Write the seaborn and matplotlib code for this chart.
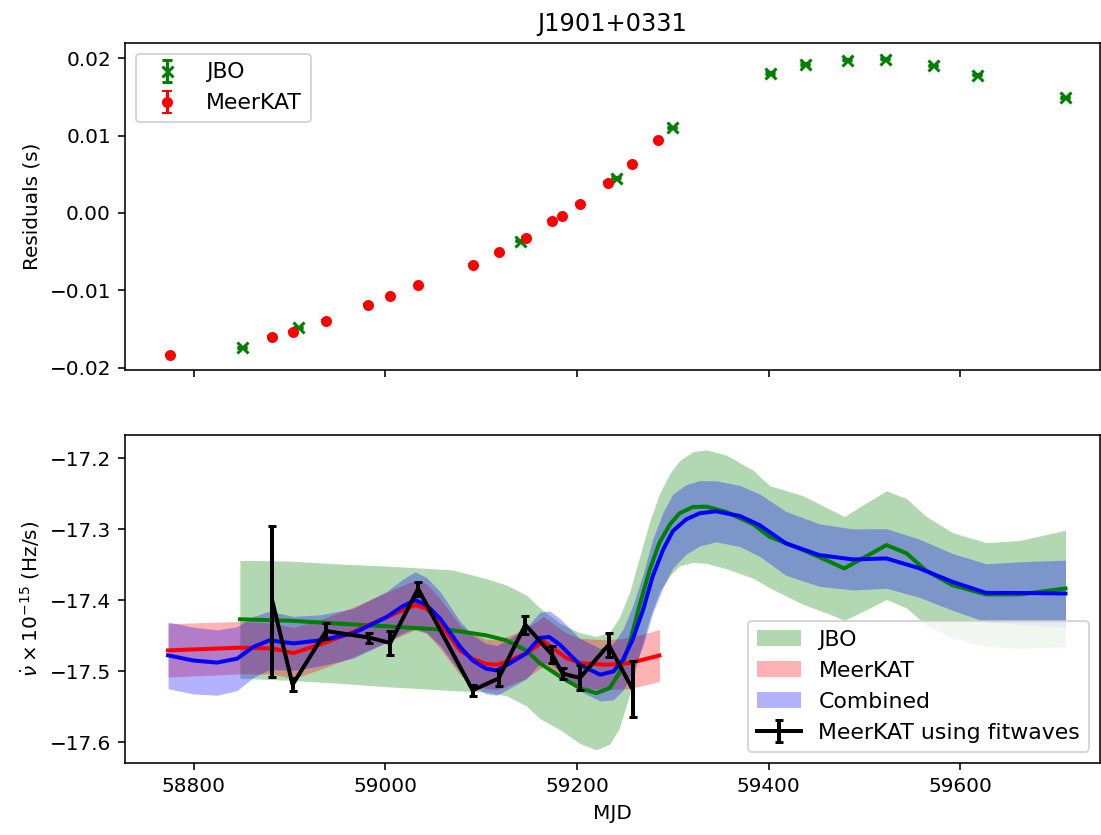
import matplotlib
matplotlib.use("Agg")
import numpy as np
import seaborn as sns
import matplotlib.pyplot as plt

# ---- top panel: timing residuals ----
jbo_mjd = [58850, 58909, 59140, 59241, 59299, 59401, 59438, 59482, 59522, 59572, 59618, 59709]
jbo_res = [-0.01738, -0.01479, -0.00358, 0.00457, 0.01108, 0.01807, 0.01923, 0.01979,
           0.01992, 0.01906, 0.01785, 0.01492]
jbo_err = [0.00008] * len(jbo_mjd)

mk_mjd = [58775, 58882, 58903, 58938, 58982, 59005, 59034, 59091, 59118, 59147,
          59174, 59184, 59203, 59232, 59257, 59284]
mk_res = [-0.01833, -0.0160, -0.01535, -0.01393, -0.01186, -0.01078, -0.00931, -0.00668,
          -0.00509, -0.0032, -0.00103, -0.00039, 0.0012, 0.00392, 0.00638, 0.00936]
mk_err = [0.00005] * len(mk_mjd)

# ---- bottom panel: nu-dot models (mean and 1-sigma half width) ----
jbo_gp_mjd = [58848, 58900, 58950, 59001, 59040, 59070, 59105, 59126, 59147, 59161,
              59182, 59203, 59220, 59234, 59244, 59255, 59265, 59276, 59286, 59297,
              59307, 59321, 59335, 59356, 59384, 59401, 59436, 59464, 59479, 59498,
              59523, 59544, 59564, 59592, 59627, 59662, 59710]
jbo_gp_nu = [-17.427, -17.429, -17.433, -17.437, -17.440, -17.4425, -17.4496, -17.4566,
             -17.4708, -17.4887, -17.5075, -17.524, -17.531, -17.524, -17.503, -17.4604,
             -17.4086, -17.3568, -17.3192, -17.2933, -17.2777, -17.2688, -17.2683,
             -17.2758, -17.2933, -17.3107, -17.3295, -17.346, -17.3554, -17.3413,
             -17.3225, -17.334, -17.358, -17.379, -17.392, -17.392, -17.3836]
jbo_gp_sig = [0.083, 0.084, 0.084, 0.085, 0.085, 0.085, 0.080, 0.078, 0.078, 0.078,
              0.075, 0.078, 0.080, 0.079, 0.078, 0.072, 0.068, 0.068, 0.069, 0.072,
              0.074, 0.078, 0.080, 0.080, 0.076, 0.072, 0.0765, 0.074, 0.073, 0.075,
              0.0765, 0.077, 0.0765, 0.074, 0.073, 0.076, 0.082]

mk_gp_mjd = [58773, 58848, 58881, 58904, 58935, 58966, 59001, 59018, 59031, 59043,
             59057, 59078, 59091, 59105, 59116, 59126, 59147, 59165, 59189, 59203,
             59231, 59255, 59286]
mk_gp_nu = [-17.4708, -17.467, -17.468, -17.4746, -17.461, -17.445, -17.424, -17.4143,
            -17.407, -17.412, -17.433, -17.471, -17.4825, -17.490, -17.491, -17.487,
            -17.475, -17.458, -17.4816, -17.4887, -17.491, -17.4887, -17.478]
mk_gp_sig = [0.0375, 0.037, 0.036, 0.036, 0.035, 0.035, 0.035, 0.035, 0.035, 0.035,
             0.035, 0.035, 0.035, 0.035, 0.035, 0.035, 0.035, 0.035, 0.035, 0.035,
             0.035, 0.036, 0.0365]

comb_mjd = [58773, 58799, 58824, 58845, 58862, 58879, 58904, 58932, 58966, 59001,
            59018, 59031, 59043, 59057, 59078, 59091, 59105, 59116, 59126, 59147,
            59161, 59171, 59182, 59203, 59224, 59238, 59248, 59258, 59269, 59279,
            59290, 59300, 59314, 59328, 59345, 59370, 59391, 59418, 59453, 59488,
            59523, 59557, 59592, 59627, 59662, 59710]
comb_nu = [-17.4778, -17.485, -17.488, -17.4825, -17.466, -17.4566, -17.461, -17.4566,
           -17.447, -17.424, -17.4086, -17.400, -17.4072, -17.426, -17.466, -17.485,
           -17.4966, -17.499, -17.492, -17.475, -17.4533, -17.452, -17.4627, -17.491,
           -17.505, -17.5004, -17.4839, -17.4557, -17.4133, -17.3662, -17.3285,
           -17.3027, -17.2862, -17.2777, -17.2749, -17.2815, -17.2947, -17.320,
           -17.3366, -17.3427, -17.3413, -17.355, -17.3743, -17.3898, -17.390, -17.3907]
comb_sig = [0.047, 0.047, 0.046, 0.045, 0.043, 0.041, 0.038, 0.036, 0.035, 0.036,
            0.038, 0.040, 0.039, 0.038, 0.036, 0.0355, 0.0355, 0.035, 0.035, 0.036,
            0.036, 0.037, 0.037, 0.037, 0.037, 0.040, 0.043, 0.047, 0.050, 0.052,
            0.053, 0.052, 0.049, 0.046, 0.043, 0.043, 0.044, 0.045, 0.044, 0.043,
            0.042, 0.041, 0.040, 0.041, 0.044, 0.047]

# ---- MeerKAT fitwaves nu-dot ----
fw_mjd = [58882, 58903, 58938, 58983, 59005, 59034, 59091, 59118, 59146, 59174,
          59185, 59203, 59233, 59258]
fw_nu = [-17.402, -17.519, -17.4435, -17.4528, -17.4604, -17.384, -17.527, -17.5103,
         -17.4347, -17.4769, -17.5035, -17.5096, -17.463, -17.5254]
fw_err = [0.107, 0.0087, 0.0106, 0.007, 0.0165, 0.0099, 0.008, 0.0113, 0.0125, 0.0118,
          0.0082, 0.0177, 0.0172, 0.0395]

fig, (ax1, ax2) = plt.subplots(2, 1, sharex=True, figsize=(1101 / 144, 835 / 144), dpi=144)
fig.subplots_adjust(left=0.1135, right=0.9991, bottom=0.0866, top=0.9489, hspace=0.2)

# residuals
ax1.errorbar(jbo_mjd, jbo_res, yerr=jbo_err, fmt='x', color='green', ms=5.5, mew=1.5,
             capsize=2.5, label='JBO')
ax1.errorbar(mk_mjd, mk_res, yerr=mk_err, fmt='o', color='red', ms=4.5,
             capsize=2.5, label='MeerKAT')
ax1.set_ylabel('Residuals (s)')
ax1.set_title('J1901+0331')
ax1.set_ylim(-0.0203, 0.0220)
ax1.legend(loc='upper left', fontsize=11)

# bands
bands = [(jbo_gp_mjd, jbo_gp_nu, jbo_gp_sig, 'green', 'JBO'),
         (mk_gp_mjd, mk_gp_nu, mk_gp_sig, 'red', 'MeerKAT'),
         (comb_mjd, comb_nu, comb_sig, 'blue', 'Combined')]
for mjd, nu, sig, col, lab in bands:
    nu = np.array(nu)
    sig = np.array(sig)
    ax2.fill_between(mjd, nu - sig, nu + sig, color=col, alpha=0.3, lw=0, label=lab)
for mjd, nu, sig, col, lab in bands:
    sns.lineplot(x=mjd, y=nu, ax=ax2, color=col, lw=2, estimator=None, sort=False, legend=False)

ax2.errorbar(fw_mjd, fw_nu, yerr=fw_err, color='black', lw=2, capsize=2, capthick=1.5,
             label='MeerKAT using fitwaves')
ax2.set_ylabel(r'$\dot{\nu}\times10^{-15}$ (Hz/s)')
ax2.set_xlabel('MJD')
ax2.set_ylim(-17.629, -17.168)
ax2.set_xlim(58728, 59746)
ax2.legend(loc='lower right', fontsize=11)

fig.savefig('out.png', dpi=144)
